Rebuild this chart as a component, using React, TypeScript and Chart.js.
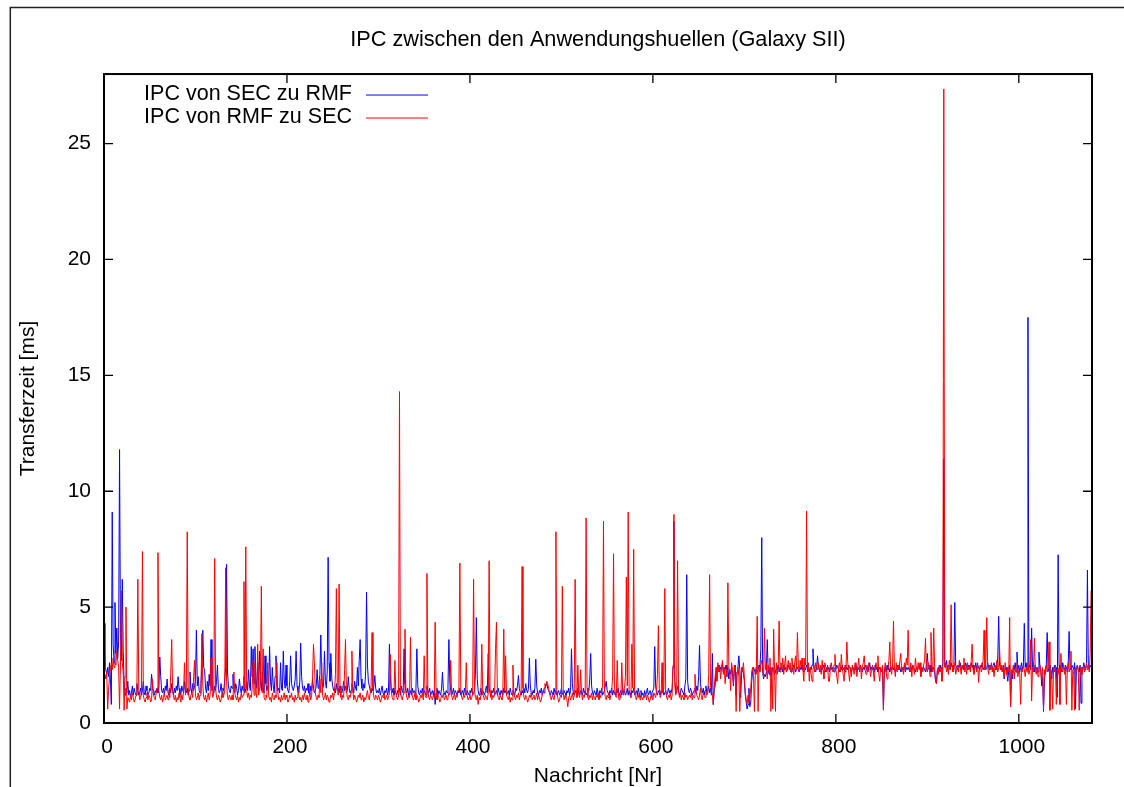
import React, { useEffect, useRef } from "react";
import { Chart, registerables } from "chart.js";

Chart.register(...registerables);

const TITLE = "IPC zwischen den Anwendungshuellen (Galaxy SII)";
const X_LABEL = "Nachricht [Nr]";
const Y_LABEL = "Transferzeit [ms]";
const SERIES_NAMES = ["IPC von SEC zu RMF", "IPC von RMF zu SEC"];
const SERIES_COLORS = ["#0000ff", "#ff0000"];
const X_TICKS = [0, 200, 400, 600, 800, 1000];
const Y_TICKS = [0, 5, 10, 15, 20, 25];
const X_MAX = 1080;
const Y_MAX = 28;

// IPC von SEC zu RMF, messages 0..1079 (ms)
const SEC_RMF_A = [
  4.3, 2.4, 2.3, 2.1, 2.4, 2.0, 2.6, 1.9, 0.8, 9.1, 3.4, 2.6, 5.2, 3.0, 4.1, 2.8, 3.5, 11.8, 3.9, 2.7,
  6.2, 3.1, 1.8, 1.2, 1.5, 1.3, 1.8, 1.2, 1.4, 1.1, 1.3, 1.6, 1.2, 1.5, 1.3, 1.2, 1.7, 1.4, 1.2, 1.3,
  1.5, 1.2, 1.4, 1.8, 1.3, 1.2, 1.6, 1.4, 1.2, 1.3, 1.5, 1.4, 2.1, 1.6, 1.3, 1.2, 1.4, 1.3, 1.5, 1.3,
  1.6, 2.85, 2.0, 1.4, 1.3, 1.5, 1.2, 1.6, 1.4, 1.9, 1.3, 1.2, 1.5, 1.3, 1.7, 1.4, 1.2, 1.5, 1.3, 1.6,
  1.4, 2.0, 1.5, 1.3, 1.2, 1.6, 1.4, 1.3, 1.8, 1.4, 1.3, 1.5, 1.2, 1.4, 2.2, 1.5, 1.3, 1.7, 1.4, 1.6,
  1.8, 4.0, 1.6, 2.0, 1.4, 1.3, 1.7, 2.4, 4.0, 2.4, 2.3, 1.5, 1.3, 1.8, 1.4, 2.1, 1.6, 3.6, 1.9, 1.4,
  1.3, 1.6, 1.4, 1.8, 2.5, 1.5, 1.3, 1.4, 1.7, 1.3, 1.5, 1.4, 1.9, 2.4, 6.85, 2.2, 1.6, 1.4, 1.3, 1.6,
  1.5, 2.1, 1.4, 1.3, 1.7, 1.5, 1.2, 1.4, 1.9, 1.5, 1.3, 1.6, 1.4, 2.0, 1.3, 1.5, 1.8, 1.4, 2.3, 1.6,
  1.4, 3.3, 2.0, 3.2, 1.7, 3.3, 1.9, 1.5, 2.6, 1.6, 3.1, 1.8, 1.4, 2.2, 1.5, 1.3, 2.9, 1.7, 1.4, 1.6,
];
const SEC_RMF_B = [
  1.5, 3.3, 1.8, 1.4, 2.4, 1.6, 1.3, 2.0, 2.9, 1.7, 1.4, 1.5, 1.3, 2.6, 1.5, 1.4, 3.1, 1.9, 1.5, 2.5,
  1.6, 1.4, 1.3, 1.8, 2.9, 1.7, 1.5, 1.4, 1.6, 1.9, 3.1, 1.6, 1.4, 1.3, 1.8, 3.45, 2.0, 1.5, 1.4, 1.6,
  1.3, 1.5, 1.4, 1.7, 1.3, 1.2, 1.6, 1.4, 1.9, 1.5, 1.3, 1.4, 1.6, 2.3, 1.5, 1.7, 2.1, 3.8, 1.9, 1.5,
  1.6, 3.1, 1.8, 1.5, 2.2, 7.15, 2.6, 1.8, 3.0, 1.9, 1.6, 1.4, 1.5, 1.3, 1.7, 1.4, 1.5, 1.3, 1.6, 1.4,
  1.3, 1.5, 1.8, 1.4, 1.6, 1.3, 1.4, 2.0, 1.5, 1.3, 1.4, 1.7, 1.5, 1.3, 1.8, 1.5, 1.4, 2.4, 1.6, 2.7,
  3.6, 1.9, 1.5, 1.4, 1.7, 1.5, 2.2, 5.65, 2.5, 1.8, 1.6, 1.4, 1.3, 1.5, 1.4, 1.6, 2.05, 1.5, 1.3, 1.4,
  1.3, 1.5, 1.2, 1.4, 1.6, 1.3, 1.2, 1.4, 1.3, 1.5, 1.2, 1.4, 3.4, 1.9, 1.4, 1.3, 1.5, 1.2, 1.4, 1.3,
  1.2, 1.4, 1.3, 1.5, 1.2, 1.6, 1.4, 1.3, 3.2, 1.7, 1.4, 1.3, 1.5, 1.2, 1.3, 1.4, 1.2, 1.5, 1.3, 1.4,
  1.3, 1.5, 3.2, 1.6, 1.3, 1.2, 1.4, 1.3, 1.5, 1.2, 1.4, 1.3, 1.2, 1.6, 1.4, 1.3, 1.5, 1.2, 1.3, 1.4,
];
const SEC_RMF_C = [
  1.2, 1.4, 0.8, 1.3, 1.5, 1.2, 1.4, 1.3, 1.2, 1.5, 2.2, 1.4, 1.3, 1.2, 1.4, 1.3, 1.6, 3.6, 1.8, 1.4,
  1.2, 1.3, 1.5, 1.2, 1.4, 1.3, 1.2, 1.4, 1.3, 1.5, 1.2, 1.3, 1.4, 1.2, 1.5, 1.3, 1.2, 1.4, 1.3, 1.2,
  1.4, 1.3, 1.5, 1.2, 1.3, 1.4, 2.1, 4.55, 1.9, 1.4, 1.2, 1.3, 1.5, 1.2, 1.4, 1.3, 1.2, 1.4, 1.6, 1.3,
  3.0, 1.5, 1.3, 1.2, 1.4, 1.3, 1.5, 1.2, 1.3, 1.4, 1.2, 1.5, 1.3, 1.2, 1.4, 1.3, 1.2, 1.5, 1.3, 1.4,
  1.2, 1.3, 1.4, 1.2, 1.5, 1.3, 1.2, 1.4, 1.3, 1.2, 1.5, 1.4, 1.6, 2.05, 1.5, 1.3, 1.2, 1.4, 1.3, 1.5,
  1.3, 1.7, 1.4, 1.3, 1.5, 2.8, 1.6, 1.3, 1.2, 1.4, 1.3, 1.5, 2.75, 1.6, 1.3, 1.2, 1.4, 1.3, 1.5, 1.2,
  1.4, 1.3, 1.5, 1.6, 1.7, 1.5, 1.4, 1.3, 1.2, 1.4, 1.3, 1.2, 1.5, 1.3, 1.4, 1.2, 1.3, 1.4, 1.2, 1.3,
  1.5, 1.3, 1.2, 1.4, 1.3, 1.2, 1.4, 1.3, 1.5, 1.2, 1.4, 3.2, 1.7, 1.3, 1.2, 1.4, 1.3, 1.2, 1.5, 1.3,
  1.2, 1.4, 1.3, 1.2, 1.5, 1.3, 1.4, 1.2, 1.3, 1.5, 1.4, 1.9, 3.0, 1.6, 1.3, 1.2, 1.4, 1.3, 1.2, 1.5,
];
const SEC_RMF_D = [
  1.3, 1.2, 1.4, 1.3, 1.5, 1.2, 1.3, 1.4, 1.6, 1.8, 1.4, 1.3, 1.2, 1.4, 1.3, 1.5, 1.2, 1.4, 1.3, 1.2,
  1.4, 1.3, 1.5, 1.2, 1.3, 1.4, 1.2, 1.5, 1.3, 1.4, 1.2, 1.3, 1.5, 1.2, 1.4, 1.3, 1.2, 1.4, 1.3, 1.5,
  1.2, 1.3, 1.4, 1.2, 1.5, 1.3, 1.1, 1.4, 1.2, 1.3, 1.1, 1.4, 1.2, 1.3, 1.5, 1.2, 1.3, 1.4, 1.2, 1.3,
  1.4, 1.5, 3.3, 1.6, 1.3, 1.2, 1.4, 1.3, 1.2, 1.4, 1.3, 1.5, 1.2, 1.3, 1.4, 1.2, 1.3, 1.5, 1.3, 1.4,
  1.3, 1.5, 2.4, 8.7, 1.8, 1.4, 1.3, 1.6, 1.4, 1.2, 1.3, 1.5, 1.4, 1.3, 1.2, 1.6, 1.9, 6.4, 1.8, 1.4,
  1.3, 1.5, 1.4, 1.2, 1.3, 1.4, 1.5, 1.3, 1.6, 1.4, 2.0, 3.35, 1.7, 1.4, 1.3, 1.5, 1.2, 1.4, 1.6, 1.3,
  1.4, 1.6, 1.3, 1.5, 1.2, 3.0, 0.8, 1.4, 1.6, 2.2, 2.4, 2.3, 2.5, 2.2, 2.4, 2.3, 2.6, 2.2, 2.4, 2.3,
  2.5, 2.2, 2.4, 1.9, 2.3, 2.1, 2.4, 2.2, 1.6, 2.3, 2.5, 1.2, 2.2, 2.4, 2.9, 2.3, 1.1, 2.2, 2.4, 2.1,
  1.8, 1.2, 0.9, 0.6, 0.8, 1.5, 0.7, 0.9, 1.8, 2.2, 2.4, 2.3, 2.1, 2.4, 2.2, 2.3, 2.5, 2.4, 3.2, 8.0,
];
const SEC_RMF_E = [
  2.2, 1.9, 2.1, 2.0, 2.2, 3.6, 2.3, 2.1, 2.4, 2.0, 2.2, 2.4, 2.3, 2.1, 2.2, 2.4, 2.3, 2.5, 2.2, 2.4,
  2.3, 2.4, 2.2, 2.5, 2.3, 2.4, 2.2, 2.3, 2.5, 2.4, 2.3, 2.2, 2.4, 2.3, 2.5, 2.4, 2.2, 2.3, 2.4, 2.3,
  2.2, 2.4, 2.3, 2.5, 2.3, 2.2, 2.4, 2.3, 2.5, 2.4, 2.3, 2.2, 2.4, 2.3, 2.5, 3.2, 2.4, 2.3, 2.2, 2.4,
  2.9, 2.4, 2.3, 2.2, 2.4, 2.3, 2.5, 2.4, 2.3, 2.2, 2.4, 2.3, 2.4, 2.2, 2.5, 2.3, 2.4, 2.3, 2.2, 2.4,
  2.3, 2.5, 2.4, 2.3, 2.2, 2.4, 2.3, 2.5, 2.3, 2.4, 2.2, 2.3, 2.4, 2.3, 2.5, 2.4, 2.3, 2.2, 2.4, 2.3,
  2.4, 2.3, 2.5, 2.2, 2.4, 2.3, 2.4, 2.5, 2.3, 2.2, 2.4, 2.3, 2.5, 2.4, 2.3, 2.2, 2.4, 2.6, 2.3, 2.4,
  2.3, 2.4, 2.2, 2.5, 2.3, 2.4, 2.2, 2.3, 2.4, 2.3, 2.2, 2.4, 0.6, 2.3, 2.4, 2.2, 2.5, 2.3, 2.4, 2.2,
  2.4, 2.3, 2.5, 2.3, 2.4, 2.2, 2.3, 2.4, 2.5, 2.3, 2.4, 2.2, 2.3, 2.4, 2.3, 2.5, 2.2, 2.4, 2.3, 2.4,
  2.3, 2.2, 2.4, 2.3, 2.5, 2.4, 2.3, 2.2, 2.4, 2.3, 2.4, 2.5, 2.3, 2.2, 2.4, 2.3, 2.4, 2.3, 2.2, 2.5,
];
const SEC_RMF_F = [
  3.0, 2.4, 2.3, 2.5, 2.2, 2.4, 2.3, 2.4, 2.2, 1.8, 1.7, 2.3, 2.4, 2.2, 2.5, 2.3, 2.4, 2.6, 11.4, 2.5,
  2.4, 2.7, 2.3, 2.5, 2.4, 2.3, 2.6, 2.4, 2.5, 2.3, 5.2, 2.5, 2.4, 2.3, 2.5, 2.4, 2.6, 2.3, 2.4, 2.5,
  2.3, 2.4, 2.6, 2.4, 2.3, 2.5, 2.4, 2.3, 2.6, 2.4, 2.5, 2.3, 2.4, 2.6, 2.3, 2.5, 2.4, 2.3, 2.5, 2.4,
  2.6, 2.3, 2.4, 2.5, 2.3, 2.4, 2.6, 2.4, 2.3, 2.5, 2.4, 2.3, 2.5, 2.6, 2.4, 2.3, 2.5, 2.8, 4.6, 2.5,
  2.3, 2.4, 2.2, 2.5, 1.9, 2.3, 2.4, 2.1, 1.8, 2.3, 2.5, 0.7, 2.2, 1.9, 2.4, 2.3, 2.6, 2.2, 3.06, 2.3,
  2.5, 2.2, 2.4, 2.6, 2.3, 2.5, 4.3, 2.4, 2.6, 2.3, 17.5, 2.4, 2.5, 2.3, 4.1, 2.4, 2.6, 2.2, 2.5, 2.3,
  2.4, 2.2, 3.06, 2.5, 2.3, 1.6, 2.0, 0.5, 1.8, 2.3, 2.5, 3.9, 2.4, 2.2, 2.5, 2.3, 1.9, 2.4, 2.2, 2.5,
  2.3, 2.4, 1.1, 7.26, 2.5, 2.3, 2.4, 2.2, 2.6, 2.4, 2.3, 2.5, 2.4, 2.2, 2.5, 3.95, 2.4, 2.3, 2.5, 2.4,
  2.3, 2.6, 0.6, 2.4, 2.5, 2.3, 2.2, 2.5, 0.85, 2.4, 2.3, 2.6, 2.4, 2.3, 2.5, 6.6, 2.4, 2.3, 2.5, 2.4,
];

// IPC von RMF zu SEC, messages 0..1079 (ms)
const RMF_SEC_A = [
  2.0, 2.1, 1.9, 2.2, 0.6, 1.4, 2.0, 2.3, 2.6, 2.3, 2.8, 2.4, 2.6, 2.5, 3.1, 2.7, 2.4, 0.6, 2.5, 5.7,
  2.6, 2.2, 0.55, 2.0, 5.0, 0.6, 1.1, 1.0, 0.9, 1.2, 1.0, 1.3, 1.1, 0.9, 1.0, 1.2, 1.6, 6.2, 1.4, 1.0,
  1.1, 1.4, 7.4, 1.2, 1.0, 0.9, 1.1, 1.3, 1.0, 1.2, 1.1, 0.9, 1.0, 1.9, 1.2, 1.1, 1.0, 1.3, 1.5, 7.35,
  1.4, 1.1, 1.0, 1.2, 0.9, 1.1, 1.3, 1.0, 1.1, 1.2, 1.0, 1.4, 1.1, 2.2, 3.6, 1.5, 1.1, 1.0, 1.2, 0.9,
  1.1, 1.0, 1.3, 1.1, 0.9, 1.2, 1.0, 1.4, 2.6, 1.2, 1.5, 8.25, 1.6, 1.1, 1.0, 1.2, 1.3, 1.1, 2.0, 2.7,
  1.2, 1.0, 1.1, 1.3, 1.0, 1.2, 1.5, 3.85, 1.6, 1.1, 1.0, 1.2, 0.9, 1.1, 1.3, 1.0, 1.2, 2.8, 1.4, 1.1,
  1.3, 7.1, 1.5, 1.1, 1.0, 1.2, 1.1, 0.9, 1.0, 1.3, 1.1, 1.2, 1.4, 6.7, 1.8, 1.1, 1.0, 1.2, 1.1, 1.0,
  1.2, 1.0, 2.2, 1.3, 1.1, 1.0, 1.2, 0.9, 1.1, 1.0, 1.3, 1.1, 1.2, 6.1, 1.5, 7.6, 1.4, 1.1, 1.3, 1.0,
  1.2, 1.1, 1.5, 2.7, 1.2, 2.6, 1.3, 1.1, 3.4, 1.2, 1.4, 2.0, 5.9, 1.3, 3.2, 1.1, 1.0, 1.2, 1.1, 2.6,
];
const RMF_SEC_B = [
  1.2, 1.0, 1.1, 0.9, 1.3, 1.1, 1.0, 1.2, 1.1, 2.6, 1.3, 1.0, 1.1, 0.9, 1.2, 1.0, 1.1, 1.3, 1.0, 1.2,
  1.1, 0.9, 1.0, 1.2, 1.1, 1.3, 1.0, 1.1, 0.9, 1.2, 1.0, 1.1, 1.4, 1.2, 1.0, 1.1, 0.9, 1.2, 1.0, 1.3,
  1.1, 1.0, 1.2, 0.9, 1.1, 1.3, 1.0, 1.2, 2.0, 3.4, 2.6, 1.3, 1.1, 1.0, 1.2, 1.1, 1.9, 1.3, 2.6, 1.2,
  1.0, 1.1, 1.3, 1.0, 1.2, 1.1, 0.9, 1.0, 1.2, 1.1, 1.3, 1.0, 1.4, 2.1, 5.8, 1.6, 1.2, 6.0, 1.5, 1.1,
  1.0, 1.2, 1.1, 2.3, 3.6, 1.4, 1.1, 1.0, 1.2, 1.1, 1.3, 3.1, 1.4, 1.0, 1.2, 1.1, 0.9, 1.0, 1.2, 1.1,
  1.3, 1.0, 1.1, 1.2, 0.9, 1.1, 1.0, 1.2, 1.4, 1.1, 1.0, 1.3, 1.6, 3.9, 1.5, 1.1, 1.0, 1.2, 1.1, 1.0,
  1.2, 1.1, 0.9, 1.0, 1.2, 1.1, 1.3, 1.0, 1.1, 1.2, 1.0, 1.1, 1.3, 2.95, 1.4, 1.1, 1.0, 1.2, 2.7, 1.3,
  1.1, 1.0, 1.2, 14.3, 1.5, 1.1, 1.0, 1.2, 1.3, 4.05, 1.4, 1.1, 1.0, 1.2, 1.1, 3.7, 1.5, 1.2, 1.0, 1.1,
  1.3, 1.0, 1.2, 1.1, 0.9, 1.0, 1.2, 1.1, 1.3, 1.0, 2.9, 1.2, 1.1, 6.45, 1.4, 1.1, 1.0, 1.2, 1.1, 1.0,
];
const RMF_SEC_C = [
  1.2, 1.1, 4.35, 1.3, 1.0, 1.2, 1.1, 0.9, 1.0, 1.2, 1.1, 1.3, 1.0, 1.1, 1.2, 1.0, 1.1, 1.3, 1.2, 2.7,
  1.2, 1.0, 1.1, 1.3, 1.0, 1.2, 1.1, 1.4, 1.6, 6.9, 1.5, 1.1, 1.0, 1.2, 1.1, 1.3, 2.6, 1.2, 1.0, 1.1,
  1.2, 1.0, 1.1, 1.3, 6.2, 1.4, 1.1, 1.0, 1.2, 0.8, 1.1, 1.0, 1.2, 3.4, 1.3, 1.1, 1.0, 1.2, 1.1, 1.0,
  1.3, 7.0, 1.4, 1.1, 1.0, 1.2, 1.1, 1.3, 3.2, 4.35, 1.3, 1.1, 1.0, 1.2, 1.1, 1.0, 1.3, 4.05, 1.4, 2.9,
  1.2, 1.1, 1.0, 1.2, 0.9, 1.1, 1.0, 2.5, 1.3, 1.1, 1.0, 1.2, 1.1, 1.3, 1.0, 1.2, 1.4, 6.75, 1.5, 1.1,
  1.0, 1.2, 1.1, 0.9, 1.0, 1.2, 1.1, 1.3, 1.0, 1.1, 1.2, 1.0, 1.1, 1.3, 1.0, 1.2, 1.1, 0.9, 1.0, 1.2,
  1.3, 1.5, 1.7, 1.6, 1.8, 1.7, 1.5, 1.3, 1.1, 1.0, 1.2, 1.1, 1.0, 1.3, 8.25, 1.4, 1.1, 0.9, 1.0, 1.2,
  1.1, 5.9, 1.3, 1.0, 1.2, 1.1, 1.0, 0.7, 1.1, 1.2, 1.0, 1.1, 1.3, 1.0, 1.2, 6.2, 1.4, 1.1, 2.5, 1.2,
  1.1, 2.3, 1.3, 1.0, 1.2, 1.1, 1.4, 8.85, 1.5, 1.1, 1.0, 1.2, 1.1, 1.3, 1.0, 1.2, 1.1, 1.0, 1.2, 1.1,
];
const RMF_SEC_D = [
  1.3, 1.0, 1.2, 1.1, 1.4, 1.6, 8.7, 1.5, 1.1, 1.0, 1.2, 1.1, 1.3, 1.0, 1.2, 1.4, 2.0, 7.3, 1.5, 1.2,
  1.1, 2.7, 1.3, 1.0, 1.2, 1.1, 2.6, 1.4, 1.2, 1.5, 2.0, 6.3, 1.6, 9.1, 1.4, 1.2, 1.1, 3.4, 1.5, 7.5,
  1.4, 1.1, 1.0, 1.2, 1.1, 1.3, 1.0, 1.2, 1.1, 1.0, 1.2, 1.1, 1.3, 1.0, 1.2, 1.1, 0.9, 1.0, 1.2, 1.1,
  1.0, 1.3, 1.2, 1.1, 1.4, 2.1, 4.2, 1.5, 1.1, 1.2, 2.6, 1.3, 1.5, 5.8, 1.4, 1.1, 1.0, 1.2, 1.1, 1.3,
  1.0, 1.2, 2.5, 9.0, 1.6, 1.2, 1.4, 7.0, 1.5, 1.1, 1.3, 1.0, 1.2, 1.1, 1.0, 1.3, 1.1, 1.2, 1.0, 1.1,
  1.2, 1.1, 1.3, 1.0, 1.2, 1.1, 2.1, 1.4, 1.2, 1.1, 1.0, 1.2, 1.5, 1.1, 1.0, 1.3, 1.2, 1.1, 1.4, 1.2,
  1.3, 2.1, 6.4, 1.6, 1.4, 1.2, 0.8, 1.5, 2.0, 2.4, 1.8, 2.6, 2.2, 2.5, 1.9, 2.3, 2.7, 2.1, 2.4, 1.7,
  2.3, 2.0, 6.05, 2.4, 2.2, 1.4, 2.6, 2.3, 1.7, 2.5, 2.1, 0.5, 2.2, 2.4, 2.0, 0.5, 1.9, 2.4, 2.2, 2.6,
  2.0, 1.3, 1.0, 0.8, 1.2, 0.9, 1.1, 1.5, 2.2, 2.4, 2.0, 0.5, 2.3, 2.1, 4.6, 0.5, 2.4, 2.2, 2.5, 2.7,
];
const RMF_SEC_E = [
  2.4, 2.0, 4.1, 2.3, 2.6, 1.9, 2.5, 2.2, 2.8, 0.5, 2.4, 0.6, 4.05, 2.3, 0.5, 2.6, 2.1, 2.5, 4.4, 2.2,
  2.6, 2.3, 2.8, 2.1, 2.5, 2.9, 2.2, 2.4, 2.7, 2.3, 2.6, 2.2, 2.8, 2.4, 2.1, 2.6, 2.9, 2.3, 3.9, 2.5,
  2.2, 2.7, 2.4, 2.8, 2.3, 1.8, 2.8, 2.5, 9.15, 2.2, 2.6, 1.8, 2.4, 2.1, 1.8, 2.3, 2.5, 2.2, 2.6, 2.4,
  2.3, 2.6, 2.2, 2.5, 2.1, 2.7, 2.3, 1.9, 2.6, 2.4, 2.2, 2.5, 1.8, 1.8, 2.4, 2.6, 2.3, 2.2, 2.5, 2.96,
  2.3, 2.0, 1.7, 2.4, 2.6, 2.2, 2.96, 2.4, 2.1, 1.8, 2.5, 2.3, 3.5, 2.6, 2.2, 1.8, 2.4, 2.0, 2.5, 2.3,
  2.1, 2.6, 2.3, 2.0, 2.4, 2.8, 2.2, 2.5, 1.9, 2.4, 2.6, 2.9, 2.3, 2.1, 2.5, 2.2, 2.6, 2.4, 2.0, 2.3,
  2.5, 2.2, 1.8, 2.4, 2.6, 2.3, 2.9, 2.1, 1.8, 2.4, 2.2, 2.5, 0.55, 2.3, 2.6, 2.2, 1.9, 2.4, 2.7, 3.5,
  2.3, 2.1, 2.5, 4.4, 2.4, 2.0, 2.6, 2.2, 2.5, 2.3, 2.7, 3.0, 2.2, 2.4, 2.1, 2.6, 2.3, 2.8, 2.5, 4.0,
  2.4, 2.2, 2.6, 2.0, 2.5, 2.3, 2.1, 2.8, 2.4, 2.2, 2.6, 2.3, 2.6, 2.0, 2.4, 2.2, 2.5, 2.7, 3.65, 2.3,
];
const RMF_SEC_F = [
  2.2, 2.6, 2.4, 2.0, 3.9, 2.5, 2.2, 4.1, 2.4, 1.8, 1.7, 2.3, 2.1, 2.5, 2.2, 2.4, 1.8, 2.3, 27.35, 2.4,
  2.6, 2.2, 2.4, 2.1, 2.7, 2.3, 5.1, 2.5, 2.2, 2.4, 2.6, 2.1, 2.3, 2.5, 2.2, 2.7, 2.4, 2.1, 2.5, 2.3,
  2.8, 2.2, 2.4, 2.1, 2.6, 2.3, 2.5, 2.2, 2.7, 3.4, 2.3, 2.1, 2.5, 2.4, 2.2, 2.6, 1.75, 2.3, 2.5, 2.2,
  2.4, 2.7, 4.0, 2.3, 2.6, 4.55, 2.4, 2.1, 2.5, 2.3, 2.6, 2.2, 2.4, 2.0, 2.5, 2.3, 2.7, 2.2, 2.4, 3.2,
  2.3, 2.5, 2.2, 2.4, 2.0, 2.6, 2.3, 2.1, 2.4, 2.2, 4.55, 0.7, 2.3, 2.1, 2.5, 1.9, 2.4, 2.2, 2.6, 2.0,
  2.3, 2.1, 0.8, 2.4, 2.2, 2.5, 2.3, 2.0, 2.4, 2.2, 2.6, 2.1, 2.3, 3.6, 0.95, 2.4, 2.2, 3.66, 2.3, 2.1,
  2.4, 2.0, 2.3, 2.5, 2.2, 1.9, 2.4, 0.6, 2.3, 2.1, 2.5, 2.2, 2.4, 3.5, 0.55, 2.3, 2.0, 0.6, 2.4, 2.2,
  2.5, 0.8, 2.3, 2.1, 2.4, 0.8, 3.0, 2.3, 2.2, 2.5, 2.1, 2.4, 0.8, 2.3, 2.6, 2.2, 2.4, 3.1, 0.55, 2.3,
  2.1, 0.55, 2.4, 2.2, 2.5, 2.3, 0.55, 2.2, 2.4, 2.1, 2.3, 2.5, 2.2, 2.4, 2.6, 2.3, 2.5, 2.2, 3.0, 5.7,
];

const SEC_RMF = [...SEC_RMF_A, ...SEC_RMF_B, ...SEC_RMF_C, ...SEC_RMF_D, ...SEC_RMF_E, ...SEC_RMF_F];
const RMF_SEC = [...RMF_SEC_A, ...RMF_SEC_B, ...RMF_SEC_C, ...RMF_SEC_D, ...RMF_SEC_E, ...RMF_SEC_F];

const FONT_FAMILY = '"Liberation Sans", Arial, Helvetica, sans-serif';

const gnuplotDecor = {
  id: "gnuplotDecor",
  beforeDraw(chart: any) {
    const ctx = chart.ctx;
    ctx.save();
    ctx.strokeStyle = "#222";
    ctx.lineWidth = 1.5;
    ctx.beginPath();
    ctx.moveTo(10.3, chart.height);
    ctx.lineTo(10.3, 7.5);
    ctx.lineTo(chart.width, 7.5);
    ctx.stroke();
    ctx.restore();
  },
  afterDraw(chart: any) {
    const { ctx, chartArea: a, scales } = chart;
    ctx.save();
    ctx.strokeStyle = "#000";
    ctx.lineWidth = 1.3;
    const L = 9;
    ctx.beginPath();
    for (const v of X_TICKS) {
      const x = scales.x.getPixelForValue(v);
      ctx.moveTo(x, a.bottom);
      ctx.lineTo(x, a.bottom - L);
      ctx.moveTo(x, a.top);
      ctx.lineTo(x, a.top + L);
    }
    for (const v of Y_TICKS) {
      const y = scales.y.getPixelForValue(v);
      ctx.moveTo(a.left, y);
      ctx.lineTo(a.left + L, y);
      ctx.moveTo(a.right, y);
      ctx.lineTo(a.right - L, y);
    }
    ctx.stroke();
    ctx.lineWidth = 2;
    ctx.strokeRect(a.left, a.top, a.right - a.left, a.bottom - a.top);

    // gnuplot-style key: text right-aligned, line sample to its right
    ctx.font = `21.5px ${FONT_FAMILY}`;
    ctx.textAlign = "right";
    ctx.textBaseline = "middle";
    ctx.fillStyle = "#000";
    chart.data.datasets.forEach((ds: any, i: number) => {
      const y = a.top + 20.5 + i * 23;
      ctx.fillText(ds.label, a.left + 248, y);
      ctx.strokeStyle = ds.borderColor;
      ctx.lineWidth = 1;
      ctx.beginPath();
      ctx.moveTo(a.left + 262, y + 0.5);
      ctx.lineTo(a.left + 324, y + 0.5);
      ctx.stroke();
    });
    ctx.restore();
  },
};

export default function App() {
  const ref = useRef<HTMLCanvasElement | null>(null);

  useEffect(() => {
    if (!ref.current) return;
    Chart.defaults.font.family = FONT_FAMILY;
    Chart.defaults.font.size = 21;
    Chart.defaults.color = "#000";

    const chart = new Chart(ref.current, {
      type: "line",
      data: {
        datasets: [
          {
            label: SERIES_NAMES[0],
            data: SEC_RMF.map((v, i) => ({ x: i, y: v })),
            borderColor: SERIES_COLORS[0],
            backgroundColor: SERIES_COLORS[0],
            borderWidth: 1,
            pointRadius: 0,
            tension: 0,
            order: 1,
          },
          {
            label: SERIES_NAMES[1],
            data: RMF_SEC.map((v, i) => ({ x: i, y: v })),
            borderColor: SERIES_COLORS[1],
            backgroundColor: SERIES_COLORS[1],
            borderWidth: 1,
            pointRadius: 0,
            tension: 0,
            order: 0,
          },
        ],
      },
      options: {
        animation: false,
        responsive: false,
        devicePixelRatio: 1,
        events: [],
        layout: { padding: { left: 0, right: 32, top: 0, bottom: 0 } },
        plugins: {
          legend: { display: false },
          tooltip: { enabled: false },
          title: {
            display: true,
            text: TITLE,
            fullSize: false,
            color: "#000",
            font: { size: 21.7, weight: "normal" as any, family: FONT_FAMILY },
            padding: { top: 27, bottom: 21 },
          },
        },
        scales: {
          x: {
            type: "linear",
            min: 0,
            max: X_MAX,
            grid: { display: false, drawTicks: false },
            border: { display: false },
            afterBuildTicks: (s: any) => {
              s.ticks = X_TICKS.map((v) => ({ value: v }));
            },
            afterFit: (s: any) => {
              s.height = 64;
            },
            ticks: {
              padding: 12,
              labelOffset: 3,
              maxRotation: 0,
              autoSkip: false,
              color: "#000",
              font: { size: 21 },
              callback: (v: any) => String(v),
            },
            title: {
              display: true,
              text: X_LABEL,
              color: "#000",
              font: { size: 21 },
              padding: { top: 0, bottom: -2 },
            },
          },
          y: {
            type: "linear",
            min: 0,
            max: Y_MAX,
            grid: { display: false, drawTicks: false },
            border: { display: false },
            afterBuildTicks: (s: any) => {
              s.ticks = Y_TICKS.map((v) => ({ value: v }));
            },
            afterFit: (s: any) => {
              s.width = 104;
            },
            ticks: {
              padding: 13,
              autoSkip: false,
              color: "#000",
              font: { size: 21 },
              callback: (v: any) => String(v),
            },
            title: {
              display: true,
              text: Y_LABEL,
              color: "#000",
              font: { size: 21 },
              padding: { top: 16, bottom: 0 },
            },
          },
        },
      },
      plugins: [gnuplotDecor],
    });
    return () => chart.destroy();
  }, []);

  return (
    <div style={{ position: "fixed", left: 0, top: 0, width: 1124, height: 787, background: "#fff", overflow: "hidden" }}>
      <canvas ref={ref} width={1124} height={787} style={{ display: "block", width: 1124, height: 787 }} />
    </div>
  );
}
